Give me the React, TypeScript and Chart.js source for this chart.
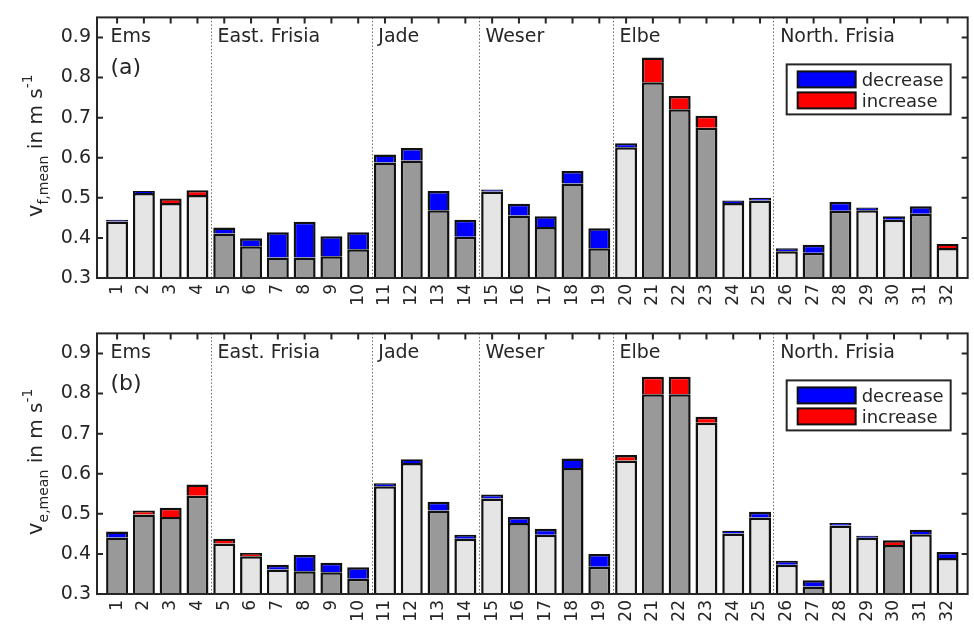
import React, { useEffect, useRef } from 'react';
import { Chart, registerables } from 'chart.js';
Chart.register(...registerables);

// ---------- data ----------
const stations = [1, 2, 3, 4, 5, 6, 7, 8, 9, 10, 11, 12, 13, 14, 15, 16, 17, 18, 19, 20, 21, 22, 23, 24, 25, 26, 27, 28, 29, 30, 31, 32];
const regions = ['Ems', 'East. Frisia', 'Jade', 'Weser', 'Elbe', 'North. Frisia'];
const regionStarts = [1, 5, 11, 15, 20, 26];
const yTicks = [0.3, 0.4, 0.5, 0.6, 0.7, 0.8, 0.9];

// panel (a): v_f,mean
const baseA = [0.441, 0.512, 0.487, 0.507, 0.411, 0.379, 0.351, 0.351, 0.354, 0.372, 0.588, 0.593, 0.469, 0.403, 0.516, 0.456, 0.427, 0.536, 0.374, 0.626, 0.788, 0.721, 0.675, 0.487, 0.493, 0.367, 0.363, 0.468, 0.469, 0.445, 0.460, 0.375];
const totalA = [0.445, 0.517, 0.498, 0.519, 0.426, 0.399, 0.414, 0.440, 0.404, 0.414, 0.608, 0.624, 0.517, 0.445, 0.521, 0.485, 0.454, 0.567, 0.424, 0.636, 0.850, 0.754, 0.705, 0.493, 0.500, 0.374, 0.383, 0.490, 0.476, 0.454, 0.479, 0.385];
const changeA = ['d', 'd', 'i', 'i', 'd', 'd', 'd', 'd', 'd', 'd', 'd', 'd', 'd', 'd', 'd', 'd', 'd', 'd', 'd', 'd', 'i', 'i', 'i', 'd', 'd', 'd', 'd', 'd', 'd', 'd', 'd', 'i'];
const shadeA = ['L', 'L', 'L', 'L', 'D', 'D', 'D', 'D', 'D', 'D', 'D', 'D', 'D', 'D', 'L', 'D', 'D', 'D', 'D', 'L', 'D', 'D', 'D', 'L', 'L', 'L', 'D', 'D', 'L', 'L', 'D', 'L'];

// panel (b): v_e,mean
const baseB = [0.441, 0.498, 0.492, 0.545, 0.426, 0.394, 0.361, 0.357, 0.354, 0.338, 0.569, 0.627, 0.508, 0.438, 0.538, 0.477, 0.448, 0.614, 0.368, 0.633, 0.798, 0.798, 0.727, 0.451, 0.491, 0.373, 0.319, 0.471, 0.440, 0.422, 0.449, 0.390];
const totalB = [0.456, 0.508, 0.515, 0.573, 0.438, 0.402, 0.373, 0.397, 0.378, 0.367, 0.576, 0.636, 0.530, 0.448, 0.548, 0.492, 0.463, 0.638, 0.400, 0.647, 0.842, 0.842, 0.742, 0.458, 0.505, 0.383, 0.334, 0.477, 0.445, 0.434, 0.460, 0.405];
const changeB = ['d', 'i', 'i', 'i', 'i', 'i', 'd', 'd', 'd', 'd', 'd', 'd', 'd', 'd', 'd', 'd', 'd', 'd', 'd', 'i', 'i', 'i', 'i', 'd', 'd', 'd', 'd', 'd', 'd', 'i', 'd', 'd'];
const shadeB = ['D', 'D', 'D', 'D', 'L', 'L', 'L', 'D', 'D', 'D', 'L', 'L', 'D', 'L', 'L', 'D', 'L', 'D', 'D', 'L', 'D', 'D', 'L', 'L', 'L', 'L', 'D', 'L', 'L', 'D', 'L', 'L'];

// ---------- styles ----------
const FONT = 'DejaVu Sans';
const TEXT = '#262626';
const EDGE = '#111111';
const LIGHT = '#e5e5e5';
const DARK = '#999999';
const BLUE = '#0000ff';
const RED = '#ff0000';

type PanelProps = {
  top: number;
  height: number;
  base: number[];
  total: number[];
  change: string[];
  shade: string[];
  letter: string;
  sub: string;
};

function Panel({ top, height, base, total, change, shade, letter, sub }: PanelProps) {
  const ref = useRef<HTMLCanvasElement>(null);
  useEffect(() => {
    const canvas = ref.current;
    if (!canvas) return;
    const dec = base.map((b, i) => (change[i] === 'd' ? +(total[i] - b).toFixed(4) : null));
    const inc = base.map((b, i) => (change[i] === 'i' ? +(total[i] - b).toFixed(4) : null));

    const deco = {
      id: 'deco',
      beforeDatasetsDraw(chart: any) {
        const { ctx, chartArea: a, scales } = chart;
        const x = scales.x;
        const y = scales.y;
        ctx.save();
        // region dividers
        ctx.strokeStyle = '#6a6a6a';
        ctx.lineWidth = 1;
        ctx.setLineDash([1.5, 2]);
        regionStarts.slice(1).forEach((s) => {
          const px = Math.round(x.getPixelForValue(s - 0.5)) + 0.5;
          ctx.beginPath();
          ctx.moveTo(px, a.top);
          ctx.lineTo(px, a.bottom);
          ctx.stroke();
        });
        ctx.setLineDash([]);
        // inward ticks
        ctx.strokeStyle = TEXT;
        ctx.lineWidth = 2;
        const tl = 6;
        stations.forEach((s) => {
          const px = x.getPixelForValue(s);
          ctx.beginPath();
          ctx.moveTo(px, a.top);
          ctx.lineTo(px, a.top + tl);
          ctx.moveTo(px, a.bottom);
          ctx.lineTo(px, a.bottom - tl);
          ctx.stroke();
        });
        yTicks.forEach((v) => {
          const py = y.getPixelForValue(v);
          ctx.beginPath();
          ctx.moveTo(a.left, py);
          ctx.lineTo(a.left + tl, py);
          ctx.moveTo(a.right, py);
          ctx.lineTo(a.right - tl, py);
          ctx.stroke();
        });
        ctx.restore();
      },
      afterDatasetsDraw(chart: any) {
        const { ctx, chartArea: a, scales } = chart;
        const x = scales.x;
        ctx.save();
        // axes box
        ctx.strokeStyle = TEXT;
        ctx.lineWidth = 2;
        ctx.strokeRect(a.left, a.top, a.right - a.left, a.bottom - a.top);

        // region names
        ctx.fillStyle = TEXT;
        ctx.font = `19px "${FONT}"`;
        ctx.textAlign = 'left';
        ctx.textBaseline = 'alphabetic';
        regions.forEach((r, i) => {
          ctx.fillText(r, x.getPixelForValue(regionStarts[i] - 0.25), a.top + 24.5);
        });
        // panel letter
        ctx.font = `22px "${FONT}"`;
        ctx.fillText(letter, x.getPixelForValue(0.75), a.top + 57);

        // legend
        const lx0 = a.right - 181;
        const lx1 = a.right - 17;
        const ly0 = a.top + 47;
        const ly1 = a.top + 97;
        ctx.fillStyle = '#ffffff';
        ctx.fillRect(lx0, ly0, lx1 - lx0, ly1 - ly0);
        ctx.strokeStyle = TEXT;
        ctx.lineWidth = 2;
        ctx.strokeRect(lx0, ly0, lx1 - lx0, ly1 - ly0);
        const items = [
          { label: 'decrease', color: BLUE, y0: a.top + 54 },
          { label: 'increase', color: RED, y0: a.top + 75 },
        ];
        items.forEach((it) => {
          ctx.fillStyle = it.color;
          ctx.fillRect(a.right - 170, it.y0, 58, 16);
          ctx.strokeStyle = EDGE;
          ctx.lineWidth = 2;
          ctx.strokeRect(a.right - 170, it.y0, 58, 16);
          ctx.fillStyle = TEXT;
          ctx.font = `18px "${FONT}"`;
          ctx.textAlign = 'left';
          ctx.textBaseline = 'alphabetic';
          ctx.fillText(it.label, a.right - 106, it.y0 + 14.5);
        });

        // y-axis title with sub/superscript
        const parts = [
          { t: 'v', size: 21, dy: 0 },
          { t: sub, size: 14, dy: 6 },
          { t: ' in m s', size: 20, dy: 0 },
          { t: '-1', size: 14, dy: -10 },
        ];
        let totalW = 0;
        parts.forEach((p) => {
          ctx.font = `${p.size}px "${FONT}"`;
          totalW += ctx.measureText(p.t).width;
        });
        ctx.translate(42, (a.top + a.bottom) / 2 - 2);
        ctx.rotate(-Math.PI / 2);
        ctx.fillStyle = TEXT;
        ctx.textAlign = 'left';
        ctx.textBaseline = 'alphabetic';
        let cx = -totalW / 2;
        parts.forEach((p) => {
          ctx.font = `${p.size}px "${FONT}"`;
          ctx.fillText(p.t, cx, p.dy);
          cx += ctx.measureText(p.t).width;
        });
        ctx.restore();
      },
    };

    const chart = new Chart(canvas, {
      type: 'bar',
      data: {
        labels: stations,
        datasets: [
          {
            label: 'base',
            data: base,
            base: 0.3,
            backgroundColor: shade.map((s) => (s === 'L' ? LIGHT : DARK)),
            borderColor: EDGE,
            borderWidth: 2.5,
          } as any,
          {
            label: 'decrease',
            data: dec,
            backgroundColor: BLUE,
            borderColor: EDGE,
            borderWidth: 2.5,
          },
          {
            label: 'increase',
            data: inc,
            backgroundColor: RED,
            borderColor: EDGE,
            borderWidth: 2.5,
          },
        ],
      },
      options: {
        responsive: false,
        animation: false,
        events: [],
        layout: { padding: { top: 15, right: 1, left: 0, bottom: 0 } },
        datasets: { bar: { barPercentage: 0.82, categoryPercentage: 1 } },
        plugins: { legend: { display: false }, tooltip: { enabled: false } },
        scales: {
          x: {
            type: 'linear',
            stacked: true,
            min: 0.25,
            max: 32.75,
            offset: false,
            grid: { display: false, drawTicks: false },
            border: { display: false },
            afterBuildTicks: (s: any) => {
              s.ticks = stations.map((v) => ({ value: v }));
            },
            afterFit: (s: any) => {
              s.height = height - 278;
            },
            ticks: {
              autoSkip: false,
              maxRotation: 90,
              minRotation: 90,
              padding: 6,
              color: TEXT,
              font: { family: FONT, size: 17 },
              callback: (v: any) => String(v),
            },
          },
          y: {
            type: 'linear',
            stacked: true,
            min: 0.3,
            max: 0.95,
            grid: { display: false, drawTicks: false },
            border: { display: false },
            afterBuildTicks: (s: any) => {
              s.ticks = yTicks.map((v) => ({ value: v }));
            },
            afterFit: (s: any) => {
              s.width = 97;
            },
            ticks: {
              padding: 6,
              color: TEXT,
              font: { family: FONT, size: 19 },
              callback: (v: any) => Number(v).toFixed(1),
            },
          },
        },
      } as any,
      plugins: [deco],
    });
    return () => chart.destroy();
  }, []);

  return (
    <canvas
      ref={ref}
      width={974}
      height={height}
      style={{ position: 'absolute', left: 0, top, display: 'block' }}
    />
  );
}

export default function App() {
  return (
    <div style={{ position: 'fixed', left: 0, top: 0, width: 974, height: 624, background: '#ffffff', overflow: 'hidden' }}>
      <Panel top={0} height={312} base={baseA} total={totalA} change={changeA} shade={shadeA} letter="(a)" sub="f,mean" />
      <Panel top={316} height={308} base={baseB} total={totalB} change={changeB} shade={shadeB} letter="(b)" sub="e,mean" />
    </div>
  );
}
